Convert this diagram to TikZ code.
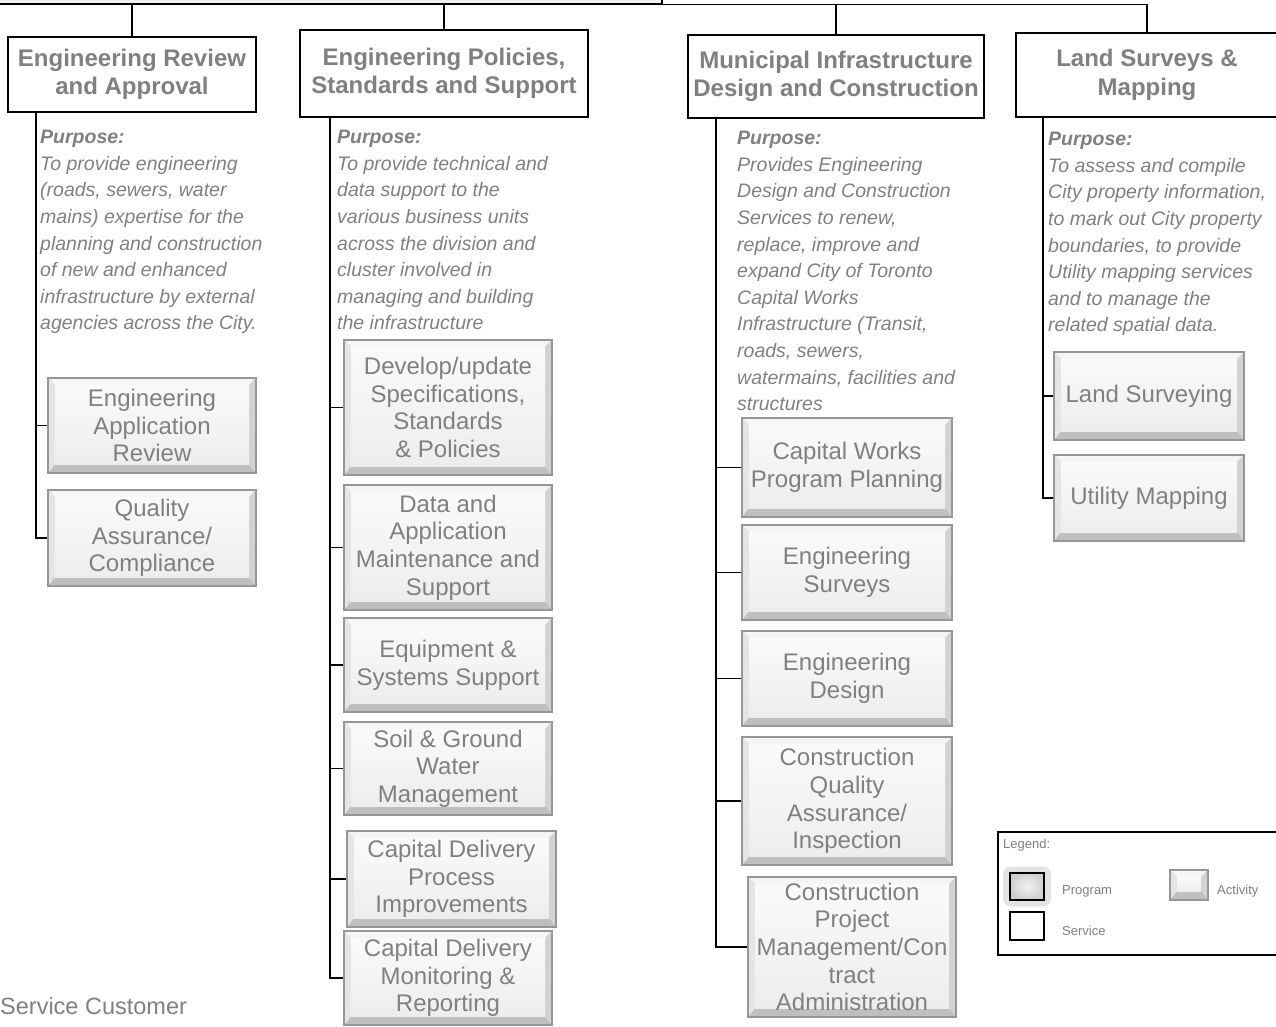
\documentclass[tikz,border=0pt]{standalone}
\usepackage{fontspec}
\setmainfont{Liberation Sans}
\usetikzlibrary{calc}
\definecolor{txtgray}{RGB}{128,128,128}
\definecolor{edgegray}{RGB}{150,150,150}

\begin{document}
\begin{tikzpicture}[x=1pt, y=-1pt,
  svc/.style={draw, line width=1.3pt, fill=white, align=center, inner sep=0pt, text=txtgray, font=\fontsize{24}{28.5}\selectfont\bfseries},
  act/.style={draw=edgegray, line width=1.2pt, fill=gray!35, align=center, inner sep=0pt, text=txtgray, font=\fontsize{24}{27.6}\selectfont,
    path picture={
      \coordinate (pa) at (path picture bounding box.south west);
      \coordinate (pb) at (path picture bounding box.north east);
      \fill[gray!8] (pa|-pb) -- (pb) -- ($(pb)+(-7pt,-7pt)$) -- ($(pa|-pb)+(7pt,-7pt)$) -- cycle;
      \fill[gray!50] (pa) -- (pb|-pa) -- ($(pb|-pa)+(-7pt,9pt)$) -- ($(pa)+(7pt,9pt)$) -- cycle;
      \fill[gray!20] (pa) -- (pa|-pb) -- ($(pa|-pb)+(7pt,-7pt)$) -- ($(pa)+(7pt,9pt)$) -- cycle;
      \fill[gray!35] (pb|-pa) -- (pb) -- ($(pb)+(-7pt,-7pt)$) -- ($(pb|-pa)+(-7pt,9pt)$) -- cycle;
      \shade[top color=gray!4, bottom color=gray!14] ($(pa)+(7pt,9pt)$) rectangle ($(pb)+(-7pt,-7pt)$);
    }},
  purp/.style={anchor=north west, align=left, inner sep=0pt, text=txtgray, font=\fontsize{19.5}{26.6}\selectfont\itshape},
  leg/.style={anchor=west, inner sep=0pt, text=txtgray, font=\fontsize{13}{15}\selectfont},
  link/.style={line width=1.3pt}]
\useasboundingbox (0,0) rectangle (1276,1027);

\node (prog) at (301,-20) [draw, line width=1.3pt, fill=gray!12, minimum width=722pt, minimum height=48pt] {};

\node (s1) at (132,74.5) [svc, minimum width=248pt, minimum height=75pt] {Engineering Review\\and Approval};
\node (s2) at (444,73.5) [svc, minimum width=288pt, minimum height=87pt] {Engineering Policies,\\Standards and Support};
\node (s3) at (836,76.5) [svc, minimum width=296pt, minimum height=83pt] {Municipal Infrastructure\\Design and Construction};
\node (s4) at (1147,75) [svc, minimum width=262pt, minimum height=84pt] {Land Surveys \&\\Mapping};

\draw[link] (s1.north) |- (prog.south -| s4.north) -- (s4.north);
\foreach \s in {s2, s3} {
  \draw[link] (\s.north) -- (\s.north |- prog.south);
}

\node (p1) at (40,130) [purp] {\textbf{Purpose:}\\To provide engineering\\(roads, sewers, water\\mains) expertise for the\\planning and construction\\of new and enhanced\\infrastructure by external\\agencies across the City.};
\node (p2) at (337,130) [purp] {\textbf{Purpose:}\\To provide technical and\\data support to the\\various business units\\across the division and\\cluster involved in\\managing and building\\the infrastructure};
\node (p3) at (737,131) [purp] {\textbf{Purpose:}\\Provides Engineering\\Design and Construction\\Services to renew,\\replace, improve and\\expand City of Toronto\\Capital Works\\Infrastructure (Transit,\\roads, sewers,\\watermains, facilities and\\structures};
\node (p4) at (1048,132) [purp] {\textbf{Purpose:}\\To assess and compile\\City property information,\\to mark out City property\\boundaries, to provide\\Utility mapping services\\and to manage the\\related spatial data.};

\node (a11) at (152,425.5) [act, minimum width=208pt, minimum height=95pt] {Engineering\\Application\\Review};
\node (a12) at (152,538) [act, minimum width=208pt, minimum height=96pt] {Quality\\Assurance/\\Compliance};

\node (a21) at (448,407.5) [act, minimum width=208pt, minimum height=135pt] {Develop/update\\Specifications,\\Standards\\\& Policies};
\node (a22) at (448,547.5) [act, minimum width=208pt, minimum height=125pt] {Data and\\Application\\Maintenance and\\Support};
\node (a23) at (448,665) [act, minimum width=208pt, minimum height=94pt] {Equipment \&\\Systems Support};
\node (a24) at (448,768.5) [act, minimum width=208pt, minimum height=93pt] {Soil \& Ground\\Water\\Management};
\node (a25) at (451.5,879) [act, minimum width=209pt, minimum height=96pt] {Capital Delivery\\Process\\Improvements};
\node (a26) at (448,978) [act, minimum width=208pt, minimum height=94pt] {Capital Delivery\\Monitoring \&\\Reporting};

\node (a31) at (847,467.5) [act, minimum width=210pt, minimum height=99pt] {Capital Works\\Program Planning};
\node (a32) at (847,572.5) [act, minimum width=210pt, minimum height=95pt] {Engineering\\Surveys};
\node (a33) at (847,678.5) [act, minimum width=210pt, minimum height=95pt] {Engineering\\Design};
\node (a34) at (847,801) [act, minimum width=210pt, minimum height=128pt] {Construction\\Quality\\Assurance/\\Inspection};
\node (a35) at (852,947) [act, minimum width=208pt, minimum height=140pt] {Construction\\Project\\Management/Con\\tract\\Administration};

\node (a41) at (1149,396) [act, minimum width=190pt, minimum height=88pt] {Land Surveying};
\node (a42) at (1149,498) [act, minimum width=190pt, minimum height=86pt] {Utility Mapping};

\coordinate (k1) at (36,0);
\coordinate (k2) at (330,0);
\coordinate (k3) at (716,0);
\coordinate (k4) at (1043,0);

\draw[link] (s1.south -| k1) |- (a12.west);
\draw[link] (s2.south -| k2) |- (a26.west);
\draw[link] (s3.south -| k3) |- (a35.west);
\draw[link] (s4.south -| k4) |- (a42.west);
\foreach \a/\k in {a11/k1, a21/k2, a22/k2, a23/k2, a24/k2, a25/k2, a31/k3, a32/k3, a33/k3, a34/k3, a41/k4} {
  \draw[link] (\k |- \a.west) -- (\a.west);
}

\node (cust) at (0,1006) [anchor=west, inner sep=0pt, text=txtgray, font=\fontsize{23.5}{27}\selectfont] {Service Customer};

\node (legbox) at (1139,893.5) [draw, line width=1.3pt, fill=white, minimum width=282pt, minimum height=123pt] {};
\node (legtitle) at (1003,845) [leg] {Legend:};
\node (lpglow) at (1027,886.5) [fill=gray!22, rounded corners=8pt, minimum width=48pt, minimum height=40pt] {};
\node (lp) at (1027,886.5) [draw, line width=1.3pt, inner color=gray!10, outer color=gray!38, minimum width=34pt, minimum height=27pt] {};
\node (lptext) at (1062,891) [leg] {Program};
\node (la) at (1189,885) [act, minimum width=38pt, minimum height=30pt] {};
\node (latext) at (1217,891) [leg] {Activity};
\node (ls) at (1027,926) [draw, line width=1.3pt, fill=white, minimum width=34pt, minimum height=28pt] {};
\node (lstext) at (1062,931) [leg] {Service};
\end{tikzpicture}
\end{document}
